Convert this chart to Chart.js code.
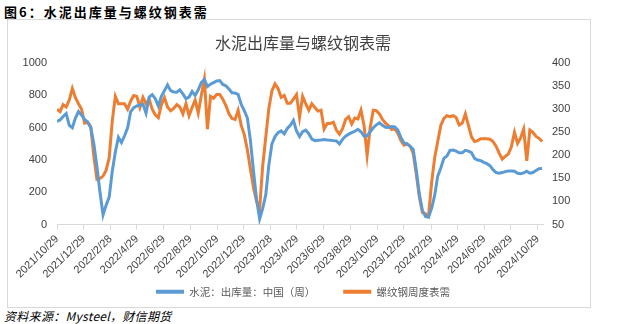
<!DOCTYPE html>
<html>
<head>
<meta charset="utf-8">
<script src="https://cdn.jsdelivr.net/npm/chart.js@4.4.1/dist/chart.umd.min.js"></script>
<style>
  body { margin: 0; background: #fff; width: 641px; height: 324px; position: relative; overflow: hidden; }
  #head { position: absolute; left: 4px; top: 2px; font: bold 13px "Noto Sans CJK SC"; letter-spacing: 2px; color: #000; }
  #box { position: absolute; left: 7px; top: 19px; width: 582px; height: 287px; border: 1px solid #d9d9d9; }
  #src { position: absolute; left: 4px; top: 307px; font: italic 12px "Noto Sans CJK SC"; letter-spacing: 0.3px; color: #000; }
</style>
</head>
<body>
<div id="head">图6：水泥出库量与螺纹钢表需</div>
<div id="box"><canvas id="c" width="582" height="287"></canvas></div>
<div id="src">资料来源：Mysteel，财信期货</div>
<script>
// weekly series, first week = 2021/10/29
const startDate = Date.UTC(2021, 9, 29);

const tickLabels = ['2021/10/29', '2021/12/29', '2022/2/28', '2022/4/29', '2022/6/29', '2022/8/29',
  '2022/10/29', '2022/12/29', '2023/2/28', '2023/4/29', '2023/6/29', '2023/8/29', '2023/10/29',
  '2023/12/29', '2024/2/29', '2024/4/29', '2024/6/29', '2024/8/29', '2024/10/29'];

// 水泥：出库量：中国（周）, 万吨
const cement = [
  640, 648, 670, 688, 615, 600, 660, 700, 678, 652, 635, 600, 500, 360, 200, 60, 120, 170, 330, 450,
  540, 508, 550, 600, 700, 725, 735, 740, 745, 690, 790, 805, 780, 735, 795, 830, 865, 830, 822, 820,
  835, 810, 780, 790, 825, 800, 835, 880, 900, 855, 870, 880, 890,
  892, 868, 860, 840, 817, 815, 806, 745, 706, 660, 520, 330, 155, 35, 100, 185, 370, 500, 545, 570,
  580, 562, 595, 615, 645, 580, 545, 575, 585, 563, 530, 520, 522, 524, 527, 524, 522, 520, 518, 500,
  528, 548, 560, 570, 578, 590, 575, 548, 550, 575, 600, 618, 630,
  615, 603, 602, 608, 605, 585, 540, 506, 500, 485, 467, 340, 190, 88, 50, 45, 100, 180, 300, 350,
  410, 425, 460, 462, 455, 445, 445, 460, 455, 445, 410, 400, 396, 385, 377, 365, 340, 322, 318, 322,
  328, 331, 332, 330, 318, 315, 320, 330, 318, 322, 335, 346, 348
];

// 螺纹钢周度表需, 万吨
const rebar = [
  300, 295, 310, 305, 320, 345, 325, 312, 300, 270, 272, 262, 198, 148, 150, 155, 168, 195, 275, 328,
  312, 312, 312, 300, 318, 330, 328, 304, 326, 312, 322, 300, 288, 282, 310, 325, 305, 297, 302, 310,
  305, 290, 312, 286, 304, 320, 292, 330, 365, 257, 328, 324, 332,
  332, 322, 308, 290, 280, 278, 298, 265, 245, 212, 170, 130, 100, 85, 178, 240, 302, 340, 355, 345,
  326, 330, 313, 313, 322, 332, 283, 328, 312, 298, 312, 304, 296, 298, 257, 269, 269, 272, 255, 246,
  258, 278, 284, 268, 281, 279, 298, 265, 200, 260, 298, 297, 290,
  278, 270, 264, 256, 258, 248, 232, 222, 225, 220, 205, 160, 110, 76, 73, 68, 140, 195, 230, 265,
  280, 286, 284, 286, 282, 266, 270, 290, 265, 240, 230, 232, 236, 236, 236, 235, 230, 220, 205, 192,
  198, 203, 219, 250, 226, 238, 257, 188, 255, 250, 241, 237, 230
];

function dayOffset(label) {
  const [y, m, d] = label.split('/').map(Number);
  return (Date.UTC(y, m - 1, d) - startDate) / 86400000;
}
const tickDays = tickLabels.map(dayOffset);
const weekly = values => values.map((v, i) => ({ x: i * 7, y: v }));

const tickFont = { family: 'Liberation Sans', size: 11 };
const tickColor = '#404040';

// the date axis is squeezed to leave room for the legend, so let its labels spill below it
const unclipDates = {
  id: 'unclipDates',
  afterLayout: chart => { chart.scales.x._computeLabelArea = () => undefined; }
};

new Chart(document.getElementById('c'), {
  type: 'line',
  data: {
    datasets: [
      {
        label: '水泥：出库量：中国（周）',
        data: weekly(cement),
        yAxisID: 'y',
        borderColor: '#5B9BD5',
        backgroundColor: '#5B9BD5',
        borderWidth: 3,
        pointRadius: 0
      },
      {
        label: '螺纹钢周度表需',
        data: weekly(rebar),
        yAxisID: 'y1',
        borderColor: '#ED7D31',
        backgroundColor: '#ED7D31',
        borderWidth: 3,
        pointRadius: 0
      }
    ]
  },
  plugins: [unclipDates],
  options: {
    responsive: false,
    animation: false,
    layout: { padding: { left: 8 } },
    plugins: {
      title: {
        display: true,
        text: '水泥出库量与螺纹钢表需',
        color: '#404040',
        font: { family: 'Noto Sans CJK SC', size: 16, weight: 'normal' },
        padding: { top: 13, bottom: 11 }
      },
      legend: {
        position: 'bottom',
        labels: {
          boxWidth: 28,
          boxHeight: 4,
          padding: 28,
          color: '#595959',
          font: { family: 'Noto Sans CJK SC', size: 10.5 },
          generateLabels: chart => Chart.defaults.plugins.legend.labels.generateLabels(chart)
            .map(item => Object.assign(item, { lineWidth: 0 }))
        }
      },
      tooltip: { enabled: false }
    },
    scales: {
      x: {
        type: 'linear',
        min: 0,
        max: 1108,
        afterBuildTicks: scale => { scale.ticks = tickDays.map(v => ({ value: v })); },
        afterFit: scale => { scale.height = 34; },
        ticks: {
          autoSkip: false,
          maxRotation: 45,
          minRotation: 45,
          color: tickColor,
          font: tickFont,
          callback: (value, index) => tickLabels[index]
        },
        grid: { drawOnChartArea: false, color: '#d9d9d9', tickLength: 5 },
        border: { color: '#d9d9d9' }
      },
      y: {
        position: 'left',
        min: 0,
        max: 1000,
        afterFit: scale => { scale.width = 41; },
        ticks: { stepSize: 100, padding: 10, color: tickColor, font: tickFont, callback: v => String(v) },
        grid: { display: false, drawTicks: false },
        border: { display: false }
      },
      y1: {
        position: 'right',
        min: 50,
        max: 400,
        afterFit: scale => { scale.width = 47; },
        ticks: { stepSize: 50, padding: 9, color: tickColor, font: tickFont, callback: v => String(v) },
        grid: { display: false, drawTicks: false },
        border: { display: false }
      }
    }
  }
});
</script>
</body>
</html>
